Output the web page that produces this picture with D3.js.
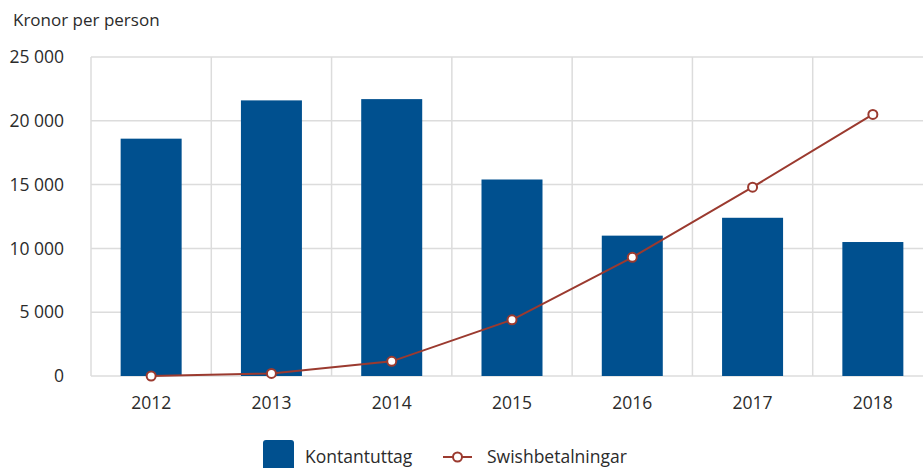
<!DOCTYPE html>
<html>
<head>
<meta charset="utf-8">
<script src="https://cdn.jsdelivr.net/npm/d3@7"></script>
<style>
  body { margin: 0; background: #fff; }
  svg { display: block; font-family: "Open Sans", sans-serif; }
</style>
</head>
<body>
<svg id="chart" width="923" height="468"></svg>
<script>
// data
const years = ["2012", "2013", "2014", "2015", "2016", "2017", "2018"];
const kontantuttag = [18600, 21600, 21700, 15400, 11000, 12400, 10500];
const swish = [0, 200, 1150, 4400, 9300, 14800, 20500];
const yTicks = [0, 5000, 10000, 15000, 20000, 25000];
const seriesNames = ["Kontantuttag", "Swishbetalningar"];

const barColor = "#00508f";
const lineColor = "#9b3a2f";
const gridColor = "#dcdcdc";
const textColor = "#2b2b2b";
const fontSize = 17.5;

const svg = d3.select("#chart");
// plot area (right edge runs past the window like in the reference)
const plotL = 91, plotR = 933, plotT = 57, plotB = 376;

const x = d3.scaleBand().domain(years).range([plotL, plotR]).paddingInner(0).paddingOuter(0);
const y = d3.scaleLinear().domain([0, 25000]).range([plotB, plotT]);

const fmt = v => d3.format(",")(v).replace(/,/g, " ");

// gridlines
svg.append("g").selectAll("line")
  .data(yTicks)
  .join("line")
  .attr("x1", plotL).attr("x2", 923)
  .attr("y1", d => y(d)).attr("y2", d => y(d))
  .attr("stroke", gridColor).attr("stroke-width", 1.5);

svg.append("g").selectAll("line")
  .data(years)
  .join("line")
  .attr("x1", d => x(d)).attr("x2", d => x(d))
  .attr("y1", plotT).attr("y2", plotB)
  .attr("stroke", gridColor).attr("stroke-width", 1.5);

// y tick labels
svg.append("g").selectAll("text")
  .data(yTicks)
  .join("text")
  .attr("x", 64).attr("y", d => y(d))
  .attr("dy", "0.35em")
  .attr("text-anchor", "end")
  .attr("font-size", fontSize)
  .attr("fill", textColor)
  .text(fmt);

// x tick labels
svg.append("g").selectAll("text")
  .data(years)
  .join("text")
  .attr("x", d => x(d) + x.bandwidth() / 2)
  .attr("y", 409)
  .attr("text-anchor", "middle")
  .attr("font-size", fontSize)
  .attr("fill", textColor)
  .text(d => d);

// title
svg.append("text")
  .attr("x", 13).attr("y", 26)
  .attr("font-size", 17)
  .attr("fill", textColor)
  .text("Kronor per person");

// bars
const bw = 61;
svg.append("g").selectAll("rect")
  .data(kontantuttag)
  .join("rect")
  .attr("x", (d, i) => x(years[i]) + x.bandwidth() / 2 - bw / 2)
  .attr("y", d => y(d))
  .attr("width", bw)
  .attr("height", d => plotB - y(d))
  .attr("fill", barColor);

// line
const line = d3.line()
  .x((d, i) => x(years[i]) + x.bandwidth() / 2)
  .y(d => y(d));

svg.append("path")
  .datum(swish)
  .attr("d", line)
  .attr("fill", "none")
  .attr("stroke", lineColor)
  .attr("stroke-width", 2);

svg.append("g").selectAll("circle")
  .data(swish)
  .join("circle")
  .attr("cx", (d, i) => x(years[i]) + x.bandwidth() / 2)
  .attr("cy", d => y(d))
  .attr("r", 4.5)
  .attr("fill", "#fff")
  .attr("stroke", lineColor)
  .attr("stroke-width", 2);

// legend
const lg = svg.append("g");
lg.append("rect")
  .attr("x", 263).attr("y", 440)
  .attr("width", 31).attr("height", 40)
  .attr("rx", 3)
  .attr("fill", barColor);
lg.append("text")
  .attr("x", 305).attr("y", 463)
  .attr("font-size", fontSize).attr("fill", textColor)
  .text(seriesNames[0]);
lg.append("line")
  .attr("x1", 443).attr("x2", 472)
  .attr("y1", 457).attr("y2", 457)
  .attr("stroke", lineColor).attr("stroke-width", 2);
lg.append("circle")
  .attr("cx", 457.5).attr("cy", 457)
  .attr("r", 4.5)
  .attr("fill", "#fff")
  .attr("stroke", lineColor).attr("stroke-width", 2);
lg.append("text")
  .attr("x", 487).attr("y", 463)
  .attr("font-size", fontSize).attr("fill", textColor)
  .text(seriesNames[1]);
</script>
</body>
</html>
